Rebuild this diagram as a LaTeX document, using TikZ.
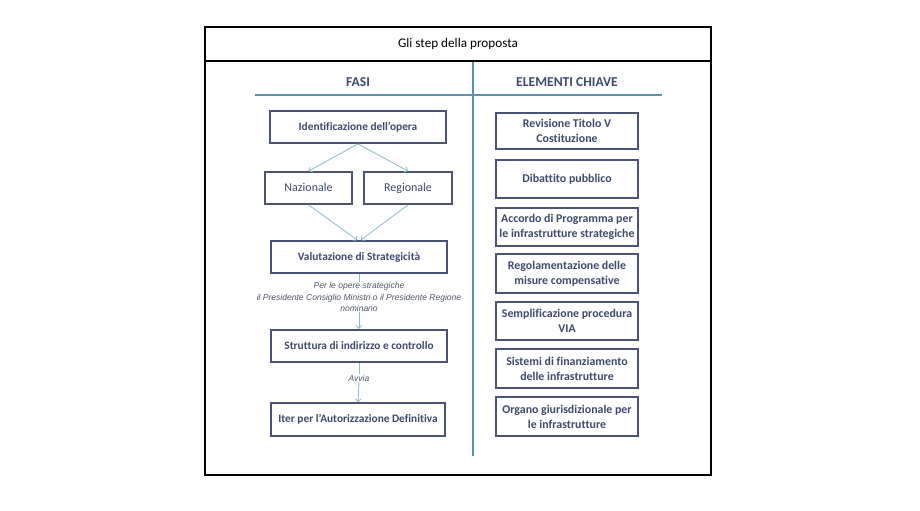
\documentclass[tikz,border=0pt]{standalone}
\usepackage{fontspec}
\setmainfont{Carlito}[Ligatures=NoCommon]
\newfontfamily\arialf{Liberation Sans}
\usetikzlibrary{arrows.meta}
\definecolor{boxline}{HTML}{4B5377}
\definecolor{boxtext}{HTML}{3D4A6C}
\definecolor{teal1}{HTML}{5B93AD}
\definecolor{teal2}{HTML}{8ABBCE}
\definecolor{labtext}{HTML}{50566A}
\tikzset{
  px/.style={x=0.75pt,y=-0.75pt},
  bx/.style={draw=boxline,line width=1.3pt,fill=white,text=boxtext,inner sep=1pt,align=center,font=\fontsize{8.5}{10.2}\selectfont\bfseries},
  bxr/.style={bx,font=\fontsize{8.9}{11.3}\selectfont\bfseries},
  bxl/.style={bx,font=\fontsize{9}{10.6}\selectfont,text height=1.6ex,text depth=0.45ex},
  lab/.style={text=labtext,align=center,inner sep=0.5pt,font=\arialf\itshape\fontsize{6.4}{8.4}\selectfont},
  hdr/.style={text=boxtext,inner sep=0pt,font=\fontsize{10.2}{12}\selectfont\bfseries},
  conn/.style={draw=teal2,line width=0.6pt},
  arr/.style={conn,-{Straight Barb[length=2.2pt,width=4.2pt]}},
  rule/.style={draw=teal1,line width=1.4pt}
}
\begin{document}
\begin{tikzpicture}[px]
\useasboundingbox (0,0) rectangle (920,510);
\fill[white] (0,0) rectangle (920,510);
% frame
\draw[line width=0.8pt] (205,27) rectangle (711,475);
\draw[line width=0.8pt] (205,61) -- (711,61);
\node[inner sep=0pt,font=\fontsize{9.9}{11}\selectfont] (title) at (458,44) {Gli step della proposta};
% headers
\node[hdr] (fasi) at (358,82) {FASI};
\node[hdr] (chiave) at (567,82) {ELEMENTI CHIAVE};
\coordinate (hl) at (255,95);
\coordinate (hr) at (662,95);
\coordinate (vt) at (473,62);
\coordinate (vb) at (473,456);
\draw[rule] (hl) -- (hr);
\draw[rule] (vt) -- (vb);
% left column
\node[bx,minimum width=132pt,minimum height=24pt] (ident) at (358,127) {Identificazione dell’opera};
\node[bxl,minimum width=65pt,minimum height=24pt] (naz) at (308.5,188) {Nazionale};
\node[bxl,minimum width=66pt,minimum height=24pt] (reg) at (408,188) {Regionale};
\node[bx,minimum width=132pt,minimum height=24pt] (val) at (359,257) {Valutazione di Strategicità};
\node[lab] (lab1) at (359,297) {Per le opere strategiche\\il Presidente Consiglio Ministri o il Presidente Regione\\nominano};
\node[bx,minimum width=132pt,minimum height=24.5pt] (strut) at (359,346) {Struttura di indirizzo e controllo};
\node[lab] (avvia) at (359,378) {Avvia};
\node[bx,minimum width=131pt,minimum height=24.5pt] (iter) at (358,419.5) {Iter per l’Autorizzazione Definitiva};
% connectors
\draw[arr] (ident.south) -- (naz.north);
\draw[arr] (ident.south) -- (reg.north);
\draw[arr] (naz.south) -- ([xshift=-1.2pt]val.north);
\draw[arr] (reg.south) -- ([xshift=1.2pt]val.north);
\draw[conn] (val.south) -- (lab1.north);
\draw[arr] (lab1.south) -- (strut.north);
\draw[conn] (strut.south) -- (avvia.north);
\draw[arr] (avvia.south) -- (iter.north);
% right column
\node[bxr,minimum width=106.5pt,minimum height=27pt] (rev) at (567,131) {Revisione Titolo V\\Costituzione};
\node[bxr,minimum width=106.5pt,minimum height=28.5pt] (dib) at (567,179) {Dibattito pubblico};
\node[bxr,minimum width=106.5pt,minimum height=28.5pt] (acc) at (567,227) {Accordo di Programma per\\le infrastrutture strategiche};
\node[bxr,minimum width=106.5pt,minimum height=29pt] (regm) at (567,273.5) {Regolamentazione delle\\misure compensative};
\node[bxr,minimum width=106.5pt,minimum height=28.5pt] (semp) at (567,321) {Semplificazione procedura\\VIA};
\node[bxr,minimum width=106.5pt,minimum height=29pt] (sist) at (567,368.5) {Sistemi di finanziamento\\delle infrastrutture};
\node[bxr,minimum width=106.5pt,minimum height=29pt] (org) at (567,416.5) {Organo giurisdizionale per\\le infrastrutture};
\end{tikzpicture}
\end{document}
